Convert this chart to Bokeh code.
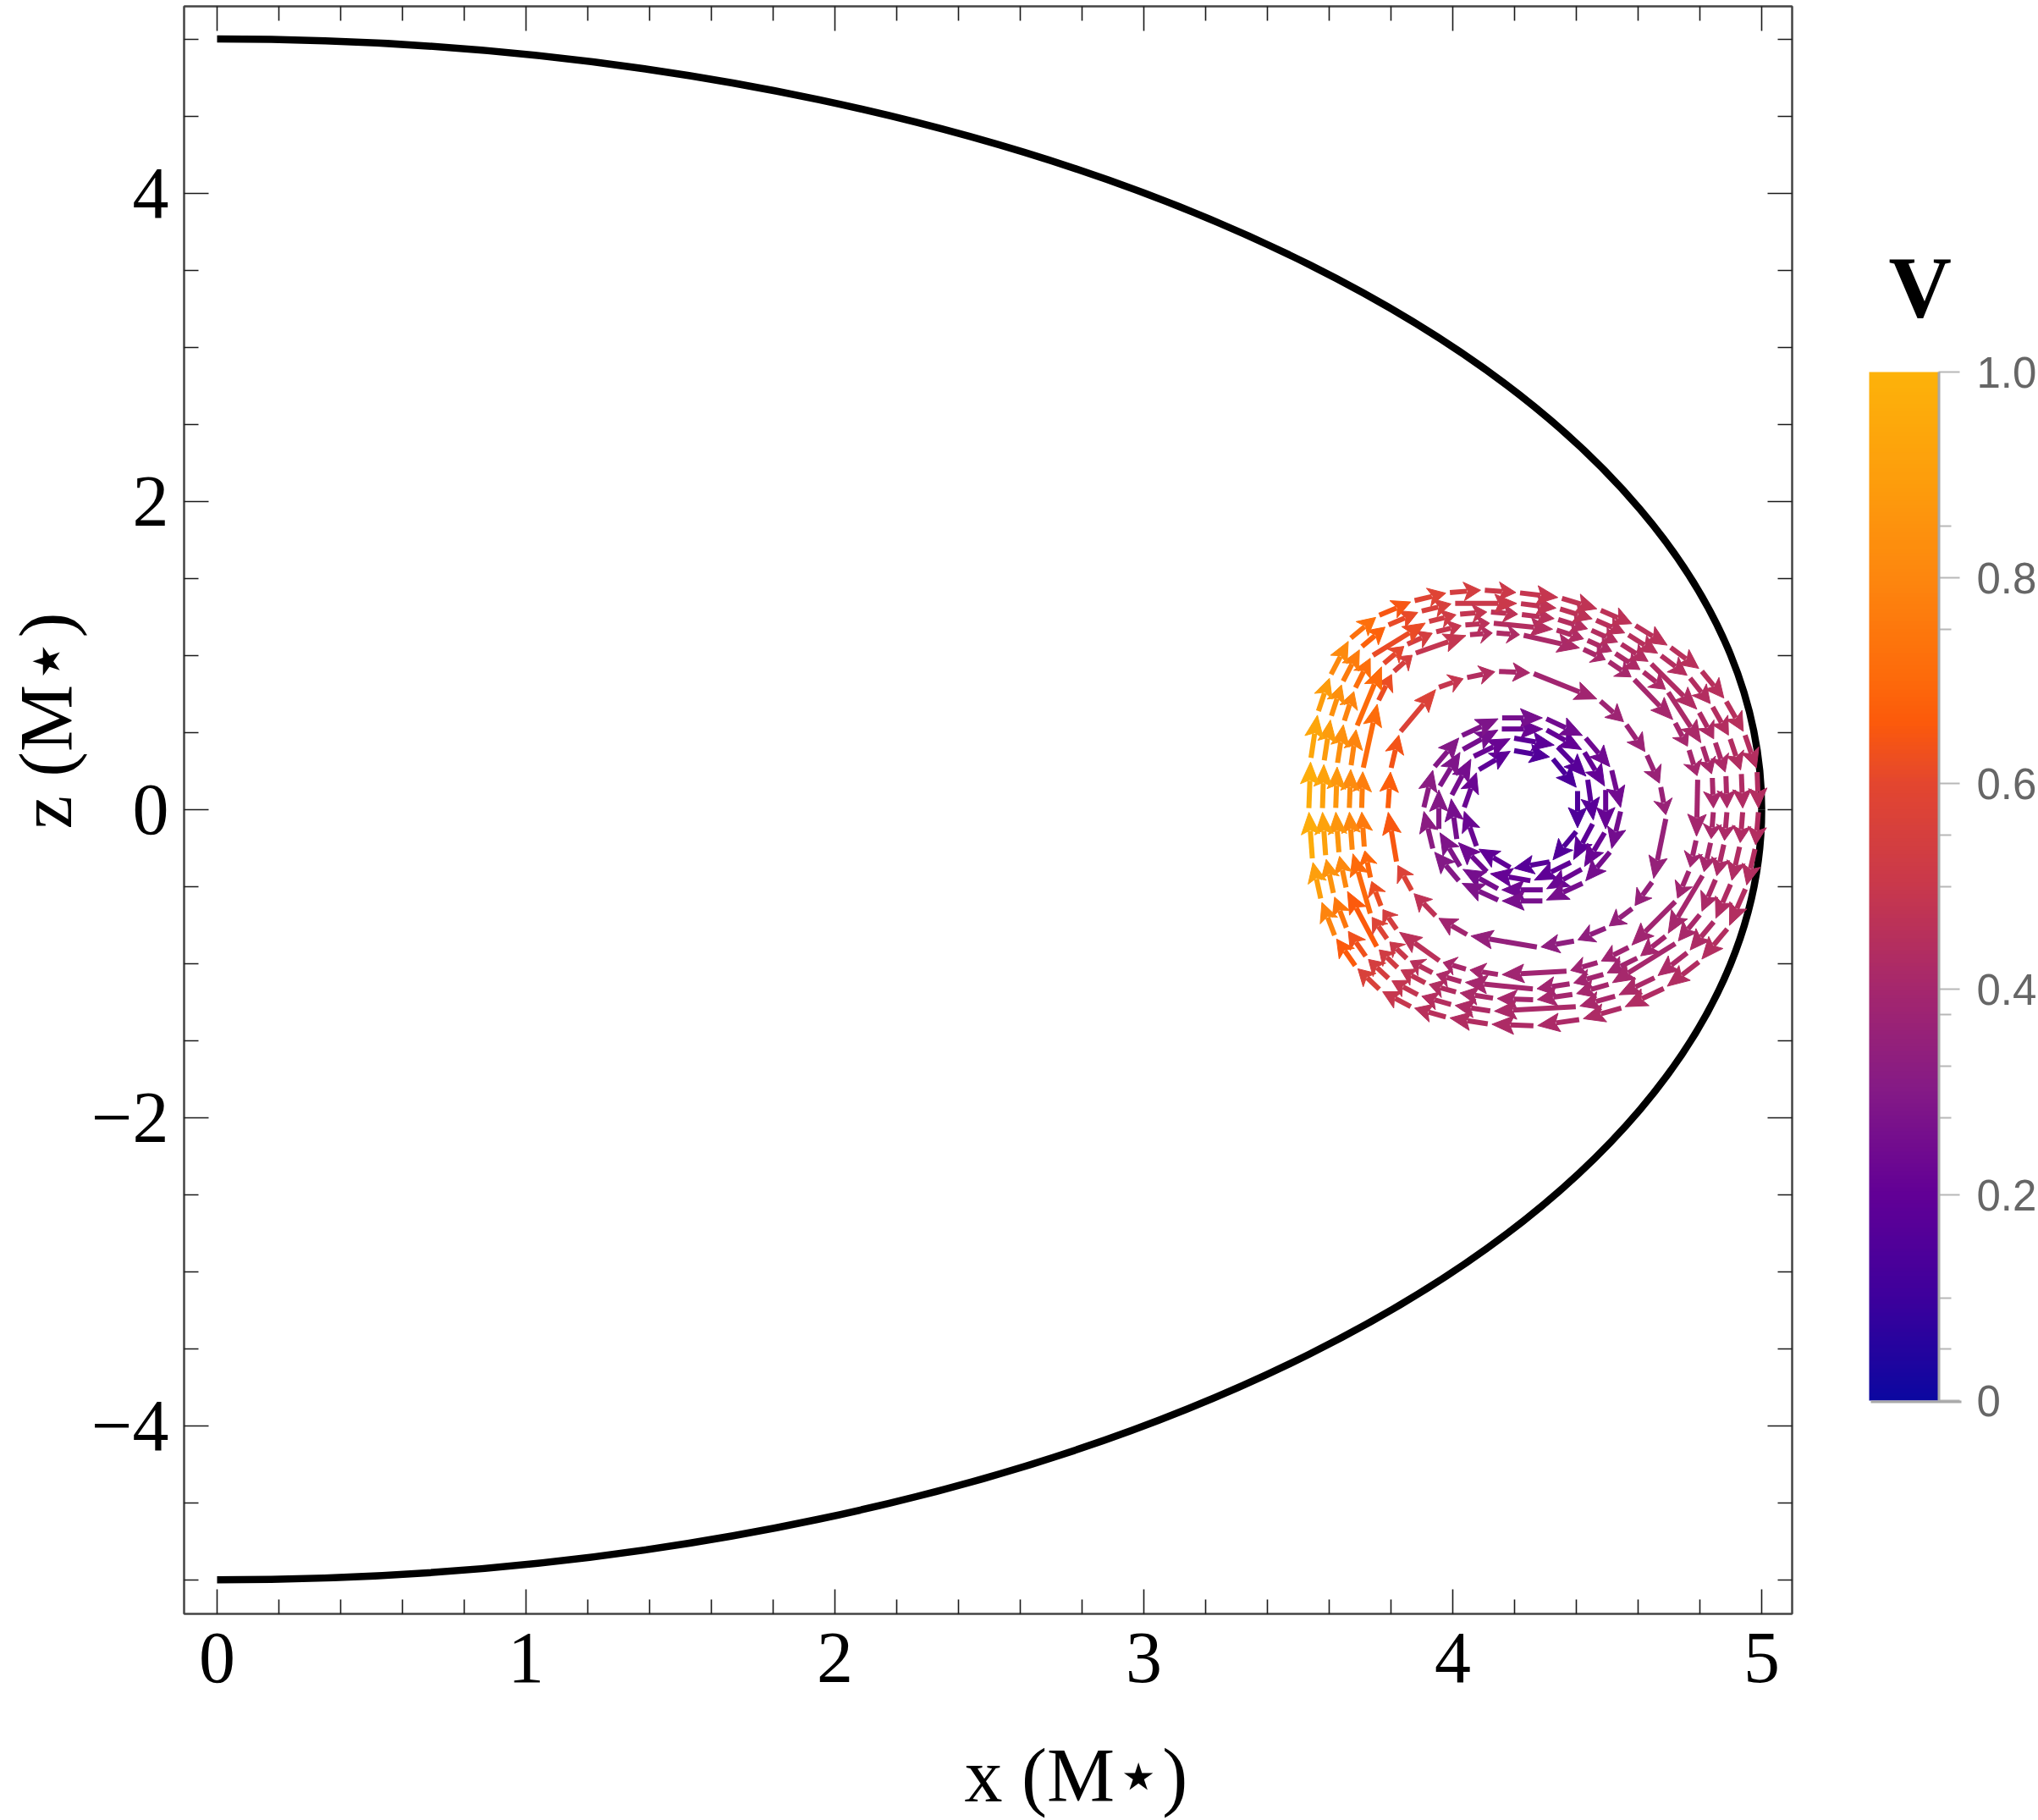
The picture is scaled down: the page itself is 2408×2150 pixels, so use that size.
import math
from bokeh.plotting import figure
from bokeh.models import (Range1d, FixedTicker, LinearAxis, ColorBar, LinearColorMapper,
                          ColumnDataSource, Title, CustomJSTickFormatter)
from bokeh.transform import transform
from bokeh.embed import file_html
from bokeh.resources import INLINE

# ---------------- data ----------------
x_major = [0, 1, 2, 3, 4, 5]
x_minor = [0.2, 0.4, 0.6, 0.8, 1.2, 1.4, 1.6, 1.8, 2.2, 2.4, 2.6, 2.8,
           3.2, 3.4, 3.6, 3.8, 4.2, 4.4, 4.6, 4.8]
z_major = [-4, -2, 0, 2, 4]
z_minor = [-5, -4.5, -3.5, -3, -2.5, -1.5, -1, -0.5, 0.5, 1, 1.5, 2.5, 3, 3.5, 4.5, 5]
v_major = [0, 0.2, 0.4, 0.6, 0.8, 1.0]
v_minor = [0.05, 0.1, 0.275, 0.325, 0.375, 0.5, 0.55, 0.75, 0.85]

x_title = "x (M\u22c6)"
z_title = "z (M\u22c6)"
v_title = "V"

boundary_radius = 5.0

# streamlines: (x, z, V) in flow order (clockwise)
outer_1 = [
    (3.534, -0.005, 0.98), (3.540, 0.321, 0.96), (3.563, 0.625, 0.92), (3.603, 0.864, 0.86),
    (3.665, 1.103, 0.77), (3.756, 1.255, 0.68), (3.870, 1.352, 0.61), (3.984, 1.407, 0.56),
    (4.097, 1.424, 0.52), (4.211, 1.407, 0.50), (4.347, 1.374, 0.48), (4.473, 1.298, 0.47),
    (4.586, 1.200, 0.46), (4.700, 1.059, 0.46), (4.802, 0.907, 0.45), (4.882, 0.712, 0.45),
    (4.944, 0.495, 0.45), (4.985, 0.256, 0.44), (4.990, -0.005, 0.44), (4.980, -0.244, 0.44),
    (4.950, -0.504, 0.44), (4.893, -0.765, 0.44), (4.802, -0.982, 0.44), (4.689, -1.156, 0.43),
    (4.552, -1.286, 0.43), (4.416, -1.362, 0.42), (4.268, -1.405, 0.42), (4.120, -1.394, 0.43),
    (3.984, -1.351, 0.44), (3.870, -1.286, 0.47), (3.767, -1.177, 0.52), (3.688, -1.025, 0.60),
    (3.620, -0.830, 0.72), (3.574, -0.591, 0.86), (3.546, -0.331, 0.95),
]
outer_2 = [
    (3.578, -0.005, 0.93), (3.583, 0.305, 0.91), (3.605, 0.594, 0.87), (3.642, 0.821, 0.81),
    (3.701, 1.048, 0.72), (3.786, 1.192, 0.64), (3.893, 1.284, 0.58), (4.001, 1.337, 0.53),
    (4.214, 1.337, 0.48), (4.341, 1.305, 0.47), (4.458, 1.233, 0.46), (4.563, 1.140, 0.45),
    (4.669, 1.006, 0.45), (4.764, 0.862, 0.44), (4.838, 0.676, 0.44), (4.896, 0.470, 0.44),
    (4.934, 0.243, 0.43), (4.939, -0.005, 0.43), (4.930, -0.229, 0.43), (4.902, -0.474, 0.43),
    (4.849, -0.719, 0.43), (4.764, -0.923, 0.42), (4.659, -1.087, 0.42), (4.532, -1.209, 0.41),
    (4.405, -1.280, 0.41), (4.128, -1.310, 0.42), (4.001, -1.270, 0.43), (3.893, -1.209, 0.46),
    (3.797, -1.106, 0.51), (3.722, -0.964, 0.58), (3.658, -0.780, 0.68), (3.615, -0.556, 0.81),
    (3.589, -0.311, 0.90),
]
outer_3 = [
    (3.621, -0.004, 0.88), (3.626, 0.289, 0.86), (3.647, 0.563, 0.82), (3.682, 0.778, 0.76),
    (3.736, 0.993, 0.68), (3.917, 1.217, 0.55), (4.017, 1.266, 0.50), (4.117, 1.282, 0.47),
    (4.217, 1.266, 0.46), (4.335, 1.237, 0.45), (4.443, 1.168, 0.44), (4.540, 1.080, 0.44),
    (4.638, 0.953, 0.43), (4.795, 0.641, 0.43), (4.848, 0.446, 0.42), (4.884, 0.230, 0.42),
    (4.888, -0.004, 0.42), (4.879, -0.215, 0.42), (4.853, -0.444, 0.42), (4.804, -0.673, 0.41),
    (4.726, -0.864, 0.41), (4.511, -1.132, 0.40), (4.394, -1.199, 0.40), (4.267, -1.236, 0.40),
    (4.137, -1.227, 0.41), (4.017, -1.189, 0.42), (3.917, -1.132, 0.45), (3.826, -1.036, 0.50),
    (3.757, -0.902, 0.56), (3.656, -0.520, 0.76), (3.632, -0.291, 0.85),
]
outer_4 = [
    (3.665, -0.004, 0.83), (3.670, 0.273, 0.81), (3.688, 0.531, 0.77), (3.772, 0.938, 0.64),
    (3.847, 1.067, 0.57), (3.940, 1.149, 0.51), (4.034, 1.196, 0.47), (4.126, 1.210, 0.45),
    (4.330, 1.168, 0.43), (4.430, 1.103, 0.43), (4.521, 1.020, 0.42), (4.612, 0.900, 0.42),
    (4.694, 0.771, 0.42), (4.807, 0.421, 0.41), (4.840, 0.218, 0.41), (4.844, -0.004, 0.41),
    (4.836, -0.203, 0.41), (4.812, -0.418, 0.40), (4.694, -0.815, 0.40), (4.603, -0.959, 0.39),
    (4.494, -1.067, 0.39), (4.385, -1.130, 0.39), (4.266, -1.166, 0.39), (4.034, -1.121, 0.41),
    (3.940, -1.067, 0.43), (3.856, -0.977, 0.47), (3.791, -0.851, 0.53), (3.735, -0.689, 0.62),
    (3.675, -0.275, 0.78),
]
outer_5 = [
    (3.705, -0.004, 0.78), (3.709, 0.258, 0.76), (3.757, 0.696, 0.66), (3.805, 0.888, 0.58),
    (3.874, 1.010, 0.52), (4.049, 1.133, 0.45), (4.135, 1.146, 0.43), (4.223, 1.133, 0.42),
    (4.417, 1.045, 0.41), (4.500, 0.966, 0.41), (4.583, 0.852, 0.40), (4.717, 0.573, 0.40),
    (4.763, 0.398, 0.40), (4.793, 0.206, 0.40), (4.789, -0.188, 0.39), (4.767, -0.388, 0.39),
    (4.725, -0.589, 0.39), (4.575, -0.890, 0.38), (4.475, -0.990, 0.38), (4.375, -1.049, 0.38),
    (4.153, -1.073, 0.39), (4.049, -1.040, 0.40), (3.962, -0.990, 0.42), (3.822, -0.789, 0.50),
    (3.770, -0.639, 0.58), (3.735, -0.455, 0.66), (3.714, -0.255, 0.73),
]
middle = [
    (3.790, -0.005, 0.68), (3.799, 0.256, 0.66), (3.827, 0.495, 0.62), (3.949, 0.788, 0.52),
    (4.040, 0.853, 0.46), (4.143, 0.896, 0.42), (4.256, 0.886, 0.40), (4.473, 0.712, 0.38),
    (4.558, 0.560, 0.37), (4.626, 0.364, 0.37), (4.672, 0.158, 0.36), (4.691, -0.048, 0.36),
    (4.649, -0.461, 0.35), (4.586, -0.635, 0.35), (4.501, -0.765, 0.34), (4.399, -0.852, 0.33),
    (4.279, -0.895, 0.33), (4.052, -0.819, 0.36), (3.949, -0.700, 0.42), (3.870, -0.537, 0.52),
    (3.819, -0.352, 0.62),
]
inner_1 = [
    (4.035, 0.000, 0.24), (4.079, 0.251, 0.21), (4.192, 0.384, 0.17), (4.320, 0.338, 0.14),
    (4.404, 0.133, 0.14), (4.404, -0.133, 0.15), (4.320, -0.338, 0.16), (4.192, -0.384, 0.18),
    (4.079, -0.251, 0.21),
]
inner_2 = [
    (3.994, 0.082, 0.27), (4.062, 0.338, 0.24), (4.192, 0.465, 0.20), (4.335, 0.415, 0.17),
    (4.436, 0.206, 0.17), (4.456, -0.082, 0.18), (4.388, -0.338, 0.19), (4.258, -0.465, 0.20),
    (4.115, -0.415, 0.22), (4.014, -0.206, 0.25),
]
inner_3 = [
    (3.955, -0.140, 0.30), (3.955, 0.140, 0.30), (4.027, 0.382, 0.27), (4.152, 0.522, 0.24),
    (4.298, 0.522, 0.21), (4.423, 0.382, 0.20), (4.495, 0.140, 0.21), (4.495, -0.140, 0.22),
    (4.423, -0.382, 0.22), (4.298, -0.522, 0.23), (4.152, -0.522, 0.24), (4.027, -0.382, 0.27),
]
inner_4 = [
    (3.905, 0.000, 0.33), (3.937, 0.267, 0.31), (4.024, 0.474, 0.29), (4.153, 0.594, 0.27),
    (4.297, 0.594, 0.25), (4.426, 0.474, 0.24), (4.513, 0.267, 0.24), (4.545, 0.000, 0.25),
    (4.513, -0.267, 0.25), (4.426, -0.474, 0.26), (4.297, -0.594, 0.26), (4.153, -0.594, 0.27),
    (4.024, -0.474, 0.29), (3.937, -0.267, 0.31),
]
streamlines = [inner_1, inner_2, inner_3, inner_4, middle,
               outer_5, outer_4, outer_3, outer_2, outer_1]

# colour scale of V
cmap_pos = [0.0, 0.1, 0.2, 0.3, 0.4, 0.5, 0.6, 0.66, 0.7, 0.8, 0.9, 1.0]
cmap_hex = ["#0c07a0", "#3e009c", "#620096", "#841a86", "#a5276d", "#c8384c",
            "#e3462f", "#fc5a0b", "#fd690b", "#fd860e", "#fd9e0c", "#fdb20a"]

# ---------------- layout ----------------
W, H = 2408, 2150
BL, BR, BT, BB = 217, 291, 7, 244
FW, FH = W - BL - BR, H - BT - BB
X0, X1 = -0.1068, 5.0986
Z0, Z1 = -5.221, 5.212
SX = FW / (X1 - X0)
SY = FH / (Z1 - Z0)
FB = BT + FH  # frame bottom in page pixels


def hex2rgb(h):
    return tuple(int(h[i:i + 2], 16) for i in (1, 3, 5))


palette = []
for k in range(256):
    t = k / 255
    j = 0
    while j < len(cmap_pos) - 2 and t > cmap_pos[j + 1]:
        j += 1
    a = (t - cmap_pos[j]) / (cmap_pos[j + 1] - cmap_pos[j])
    c0, c1 = hex2rgb(cmap_hex[j]), hex2rgb(cmap_hex[j + 1])
    palette.append("#%02x%02x%02x" % tuple(int(round(c0[i] + (c1[i] - c0[i]) * a)) for i in range(3)))

mapper = LinearColorMapper(palette=palette, low=0, high=1)

p = figure(width=W, height=H, x_range=Range1d(X0, X1), y_range=Range1d(Z0, Z1),
           output_backend="svg", toolbar_location=None, title=None,
           min_border_left=BL, min_border_right=BR, min_border_top=BT, min_border_bottom=BB)
p.xgrid.visible = False
p.ygrid.visible = False
p.outline_line_color = "#444444"
p.outline_line_width = 2
p.background_fill_color = "white"
p.border_fill_color = "white"

SERIF = "Liberation Serif, DejaVu Sans"


def style_axis(ax, ticker):
    ax.ticker = ticker
    ax.major_tick_in = 29
    ax.major_tick_out = 0
    ax.minor_tick_in = 17
    ax.minor_tick_out = 0
    ax.major_tick_line_color = "#1a1a1a"
    ax.minor_tick_line_color = "#1a1a1a"
    ax.major_tick_line_width = 1.6
    ax.minor_tick_line_width = 1.6
    ax.axis_line_color = "#444444"
    ax.axis_line_width = 2
    ax.major_label_text_font = "Liberation Serif"
    ax.major_label_text_font_size = "86px"
    ax.major_label_text_color = "black"


xt = FixedTicker(ticks=x_major, minor_ticks=x_minor)
zt = FixedTicker(ticks=z_major, minor_ticks=z_minor)
style_axis(p.xaxis[0], xt)
style_axis(p.yaxis[0], zt)
p.xaxis[0].major_label_standoff = 23
p.yaxis[0].major_label_standoff = 18
p.yaxis[0].formatter = CustomJSTickFormatter(
    code="return tick < 0 ? '\\u2212' + Math.abs(tick) : String(tick);")
# spacer between the x tick labels and the x title
p.xaxis[0].axis_label = "\u00a0"
p.xaxis[0].axis_label_text_font_size = "1px"
p.xaxis[0].axis_label_standoff = 52

for ticker, side in ((xt, "above"), (zt, "right")):
    ax = LinearAxis()
    style_axis(ax, ticker)
    ax.formatter = CustomJSTickFormatter(code="return '';")
    ax.major_label_text_font_size = "1px"
    ax.major_label_standoff = 0
    p.add_layout(ax, side)

# axis titles (side panels)
p.add_layout(Title(text=x_title, align="left", offset=1139 - BL, standoff=0,
                   vertical_align="bottom",
                   text_font=SERIF, text_font_size="90px", text_font_style="normal",
                   text_color="black"), "below")
p.add_layout(Title(text=z_title, align="left", offset=FB - 979, standoff=0,
                   vertical_align="top",
                   text_font=SERIF, text_font_size="89px", text_font_style="normal",
                   text_color="black"), "left")

# boundary x^2 + z^2 = R^2 (right half), drawn as two cubic Bezier quarters
R = boundary_radius
K = 0.5523
p.bezier(x0=[0, R], y0=[R, 0], x1=[R, 0], y1=[0, -R],
         cx0=[K * R, R], cy0=[R, -K * R], cx1=[R, K * R], cy1=[K * R, -R],
         line_color="black", line_width=8.5, line_cap="butt")

# arrows along the streamlines
GAP, HEAD_L, HEAD_W, NOTCH, SHAFT = 2.5, 26.0, 11.0, 5.0, 6.0
seg = dict(x0=[], y0=[], x1=[], y1=[], v=[])
heads = dict(xs=[], ys=[], v=[])
for line in streamlines:
    n = len(line)
    for i in range(n):
        xa, za, va = line[i]
        xb, zb, vb = line[(i + 1) % n]
        dx, dy = (xb - xa) * SX, (zb - za) * SY
        L = math.hypot(dx, dy)
        ux, uy = dx / L, dy / L
        nx, ny = -uy, ux
        hl = min(HEAD_L, 0.55 * (L - 2 * GAP))
        tx, ty = dx - GAP * ux, dy - GAP * uy
        bx, by = tx - hl * ux, ty - hl * uy
        v = 0.5 * (va + vb)
        seg["x0"].append(xa + GAP * ux / SX)
        seg["y0"].append(za + GAP * uy / SY)
        seg["x1"].append(xa + (bx + 4 * ux) / SX)
        seg["y1"].append(za + (by + 4 * uy) / SY)
        seg["v"].append(v)
        pts = [(tx, ty), (bx + HEAD_W * nx, by + HEAD_W * ny),
               (bx + NOTCH * ux, by + NOTCH * uy), (bx - HEAD_W * nx, by - HEAD_W * ny)]
        heads["xs"].append([xa + px / SX for px, _ in pts])
        heads["ys"].append([za + py / SY for _, py in pts])
        heads["v"].append(v)

p.segment(x0="x0", y0="y0", x1="x1", y1="y1", source=ColumnDataSource(seg),
          line_color=transform("v", mapper), line_width=SHAFT, line_cap="butt")
p.patches(xs="xs", ys="ys", source=ColumnDataSource(heads),
          fill_color=transform("v", mapper), line_color=transform("v", mapper), line_width=1)

# colour bar
CB_LEFT, CB_BOTTOM, CB_W, CB_H = 2208, 1654, 82, 1215
cb = ColorBar(color_mapper=mapper, ticker=FixedTicker(ticks=v_major, minor_ticks=v_minor),
              formatter=CustomJSTickFormatter(code="return tick == 0 ? '0' : tick.toFixed(1);"),
              location=(CB_LEFT - BL, FB - CB_BOTTOM), width=CB_W, height=CB_H,
              padding=0, margin=0, title=None,
              major_tick_in=0, major_tick_out=25, minor_tick_in=0, minor_tick_out=15,
              major_tick_line_color="#b8b8b8", major_tick_line_width=2,
              minor_tick_line_color="#b8b8b8", minor_tick_line_width=2,
              label_standoff=20, major_label_text_font="Liberation Sans",
              major_label_text_font_size="51px", major_label_text_color="#666666",
              background_fill_alpha=0, border_line_color=None, bar_line_color=None)
p.add_layout(cb)


def plain_bar(**kw):
    """colour-bar shaped decoration without ticks (edge lines, heading)."""
    base = dict(padding=0, margin=0, title=None,
                major_tick_line_color=None, minor_tick_line_color=None,
                background_fill_alpha=0, border_line_color=None, bar_line_color=None)
    base.update(kw)
    return ColorBar(**base)


# grey edge lines of the colour bar (right side and bottom)
edge_mapper = LinearColorMapper(palette=["#a9a9a9"], low=0, high=1)
p.add_layout(plain_bar(color_mapper=edge_mapper, ticker=FixedTicker(ticks=[]),
                       location=(CB_LEFT + CB_W - BL - 1, FB - CB_BOTTOM), width=3, height=CB_H))
p.add_layout(plain_bar(color_mapper=edge_mapper, ticker=FixedTicker(ticks=[]),
                       orientation="horizontal",
                       location=(CB_LEFT + 2 - BL, FB - CB_BOTTOM - 3), width=CB_W + 25, height=3))

# heading "V" above the colour bar (tick label of an invisible bar)
head_mapper = LinearColorMapper(palette=["#ffffff"], low=0, high=1)
p.add_layout(plain_bar(color_mapper=head_mapper, ticker=FixedTicker(ticks=[0.5]),
                       formatter=CustomJSTickFormatter(code="return '%s';" % v_title),
                       scale_alpha=0, location=(2228 - BL, FB - 372), width=1, height=68,
                       major_tick_out=0, major_tick_in=0, label_standoff=2,
                       major_label_text_font="Liberation Serif", major_label_text_font_size="103px",
                       major_label_text_font_style="bold", major_label_text_color="black"))

open("out.html", "w").write(file_html(p, INLINE, title="streamlines"))
